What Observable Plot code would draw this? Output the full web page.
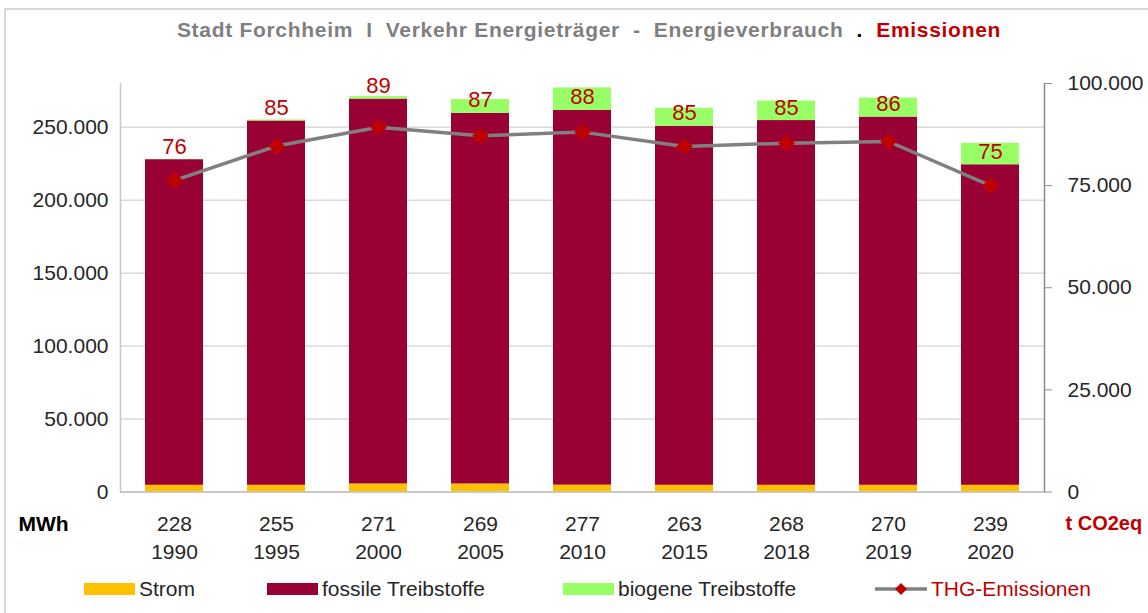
<!DOCTYPE html>
<html>
<head>
<meta charset="utf-8">
<script src="https://cdn.jsdelivr.net/npm/d3@7"></script>
<script src="https://cdn.jsdelivr.net/npm/@observablehq/plot@0.6"></script>
<style>
  html, body { margin: 0; padding: 0; background: #fff; }
  body { width: 1148px; height: 613px; position: relative; overflow: hidden; font-family: "Liberation Sans", Arial, sans-serif; }
  #border { position: absolute; left: 4px; top: 8px; width: 1160px; height: 640px; border-left: 2px solid #d9d9d9; border-top: 2px solid #d9d9d9; box-sizing: border-box; }
  #title { position: relative; height: 60px; line-height: 60px; text-align: center; font-weight: bold; font-size: 21px; letter-spacing: 0.7px; color: #7f7f7f; padding-left: 30px; box-sizing: border-box; white-space: pre; }
  #title .dot { color: #000; }
  #title .em { color: #c00000; }
  #chart { position: relative; height: 505px; }
  #legend { position: relative; height: 48px; font-size: 21px; color: #262626; }
  #legend .item { position: absolute; top: 0; height: 48px; display: flex; align-items: center; }
  #legend .sw { display: inline-block; width: 51px; height: 12px; margin-right: 4px; }
</style>
</head>
<body>
<div id="border"></div>
<div id="title">Stadt Forchheim  I  Verkehr Energieträger  -  Energieverbrauch  <span class="dot">.</span>  <span class="em">Emissionen</span></div>
<div id="chart"></div>
<div id="legend"></div>
<script>
// ---- data ----
const years = ["1990", "1995", "2000", "2005", "2010", "2015", "2018", "2019", "2020"];
const totalLabels = ["228", "255", "271", "269", "277", "263", "268", "270", "239"];
const strom = [4600, 4600, 5500, 5500, 4700, 4600, 4600, 4600, 4600];
const fossil = [223200, 249700, 263800, 254100, 256900, 246100, 250000, 252400, 219700];
const biogen = [200, 700, 1700, 9400, 15400, 12300, 13400, 13000, 14700];
const emissions = [76300, 84700, 89300, 87200, 88100, 84600, 85400, 85800, 75000];
const seriesNames = ["Strom", "fossile Treibstoffe", "biogene Treibstoffe"];
const seriesColors = ["#ffc000", "#990033", "#99ff66"];
const leftTicks = [0, 50000, 100000, 150000, 200000, 250000];
const rightTicks = [0, 25000, 50000, 75000, 100000];

// ---- derived tables ----
const leftMax = 280000, rightMax = 100000, k = leftMax / rightMax;
const stacked = [];
years.forEach((y, i) => {
  [strom, fossil, biogen].forEach((arr, s) => stacked.push({year: y, series: seriesNames[s], value: arr[i]}));
});
const emis = years.map((y, i) => ({year: y, em: emissions[i], base: strom[i] + fossil[i]}));
const de = d3.formatLocale({decimal: ",", thousands: ".", grouping: [3], currency: ["", " €"]});
const fmt = de.format(",d");
const labelOf = Object.fromEntries(years.map((y, i) => [y, totalLabels[i] + "\n" + y]));

const font = "Liberation Sans, Arial, sans-serif";
const chart = Plot.plot({
  width: 1148,
  height: 505,
  marginTop: 23,
  marginBottom: 73.5,
  marginLeft: 120,
  marginRight: 104,
  style: {fontFamily: font, fontSize: "21px", color: "#262626", background: "transparent", overflow: "visible"},
  x: {domain: years, paddingInner: 0.435, paddingOuter: 0.2175, label: null},
  y: {domain: [0, leftMax], label: null},
  color: {domain: seriesNames, range: seriesColors},
  marks: [
    Plot.gridY(leftTicks, {stroke: "#d9d9d9", strokeOpacity: 1, strokeWidth: 1.5}),
    Plot.frame({anchor: "left", stroke: "#c8c8c8", strokeWidth: 1.5}),
    Plot.frame({anchor: "right", stroke: "#8c8c8c", strokeWidth: 1.5}),
    Plot.barY(stacked, {x: "year", y: "value", fill: "series", order: seriesNames}),
    Plot.ruleY([0], {stroke: "#bfbfbf", strokeWidth: 1.5}),
    Plot.line(emis, {x: "year", y: d => d.em * k, stroke: "#808080", strokeWidth: 3.5}),
    Plot.dot(emis, {x: "year", y: d => d.em * k, symbol: "diamond2", r: 7.5, fill: "#c00000", stroke: "none"}),
    Plot.text(emis, {x: "year", y: "base", text: d => String(Math.round(d.em / 1000)), dy: -13, fill: "#c00000", fontSize: 22, lineAnchor: "middle"}),
    Plot.axisY(leftTicks, {anchor: "left", tickSize: 0, tickPadding: 12, tickFormat: fmt, fontSize: 21, label: null}),
    Plot.axisY(rightTicks.map(v => v * k), {anchor: "right", tickSize: 7, stroke: "#8c8c8c", tickPadding: 16, tickFormat: v => fmt(Math.round(v / k)), fontSize: 21, label: null}),
    Plot.axisX({tickSize: 0, tickPadding: 20, tickFormat: d => labelOf[d], lineHeight: 1.3, fontSize: 21, label: null}),
    Plot.text(["MWh"], {frameAnchor: "bottom-left", dx: -102, dy: 32, textAnchor: "start", lineAnchor: "middle", fontWeight: "bold", fontSize: 21, fill: "#000"}),
    Plot.text(["t CO2eq"], {frameAnchor: "bottom-right", dx: 21, dy: 32, textAnchor: "start", lineAnchor: "middle", fontWeight: "bold", fontSize: 20, fill: "#c00000"})
  ]
});
document.getElementById("chart").appendChild(chart);

// ---- legend ----
const legend = document.getElementById("legend");
const legendPos = [84, 267, 563];
seriesNames.forEach((name, i) => {
  const it = document.createElement("div");
  it.className = "item";
  it.style.left = legendPos[i] + "px";
  it.innerHTML = `<span class="sw" style="background:${seriesColors[i]}"></span><span>${name}</span>`;
  legend.appendChild(it);
});
const thg = document.createElement("div");
thg.className = "item";
thg.style.left = "875px";
thg.innerHTML = `<svg width="52" height="16" style="margin-right:4px"><line x1="0" y1="8" x2="52" y2="8" stroke="#808080" stroke-width="3.5"/><path d="M26,2 L32,8 L26,14 L20,8 Z" fill="#c00000"/></svg><span style="color:#c00000">THG-Emissionen</span>`;
legend.appendChild(thg);
</script>
</body>
</html>
